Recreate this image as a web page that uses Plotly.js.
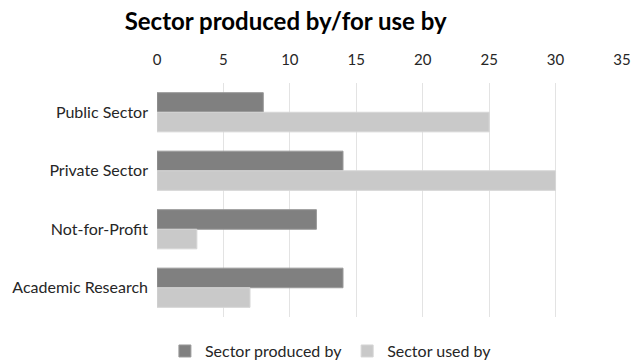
<!DOCTYPE html>
<html>
<head>
<meta charset="utf-8">
<script src="https://cdn.plot.ly/plotly-3.0.1.min.js"></script>
<style>
  html, body { margin: 0; padding: 0; background: #fff; }
  #chart { width: 632px; height: 362px; }
</style>
</head>
<body>
<div id="chart"></div>
<script>
// Sectors, top to bottom
const categories = ["Public Sector", "Private Sector", "Not-for-Profit", "Academic Research"];
const producedBy = [8, 14, 12, 14];
const usedBy = [25, 30, 3, 7];
const xTicks = [0, 5, 10, 15, 20, 25, 30, 35];

const font = "Lato, 'Open Sans', 'Liberation Sans', sans-serif";

const traces = [
  {
    type: "bar",
    orientation: "h",
    name: "Sector produced by",
    y: categories,
    x: producedBy,
    marker: { color: "#808080", line: { color: "#9a9a9a", width: 1 } },
    hoverinfo: "x+y"
  },
  {
    type: "bar",
    orientation: "h",
    name: "Sector used by",
    y: categories,
    x: usedBy,
    marker: { color: "#c9c9c9", line: { color: "#d6d6d6", width: 1 } },
    hoverinfo: "x+y"
  }
];

const layout = {
  width: 632,
  height: 362,
  margin: { l: 157, r: 10, t: 83, b: 45, autoexpand: false },
  paper_bgcolor: "#ffffff",
  plot_bgcolor: "#ffffff",
  font: { family: font, color: "#262626", size: 16 },
  title: {
    text: "<b>Sector produced by/for use by</b>",
    font: { family: font, size: 24, color: "#000000" },
    xref: "container",
    x: 0.452,
    xanchor: "center",
    y: 0.94,
    yanchor: "middle"
  },
  barmode: "group",
  bargap: 0.33,
  bargroupgap: 0,
  xaxis: {
    side: "top",
    range: [0, 35],
    tickvals: xTicks,
    ticktext: xTicks.map(String),
    showgrid: true,
    gridcolor: "#e3e3e3",
    gridwidth: 1,
    zeroline: false,
    showline: false,
    ticks: "",
    ticklabelstandoff: 14,
    tickfont: { family: font, size: 15, color: "#262626" },
    fixedrange: true
  },
  yaxis: {
    type: "category",
    autorange: "reversed",
    showgrid: false,
    zeroline: false,
    showline: false,
    ticks: "",
    ticklabelstandoff: 8,
    tickfont: { family: font, size: 16, color: "#262626" },
    fixedrange: true
  },
  legend: {
    orientation: "h",
    x: 0.374,
    xanchor: "center",
    y: -0.073,
    yanchor: "top",
    font: { family: font, size: 16, color: "#262626" },
    itemwidth: 30,
    traceorder: "normal"
  },
  showlegend: true
};

Plotly.newPlot("chart", traces, layout, { displayModeBar: false, staticPlot: true });
</script>
</body>
</html>
